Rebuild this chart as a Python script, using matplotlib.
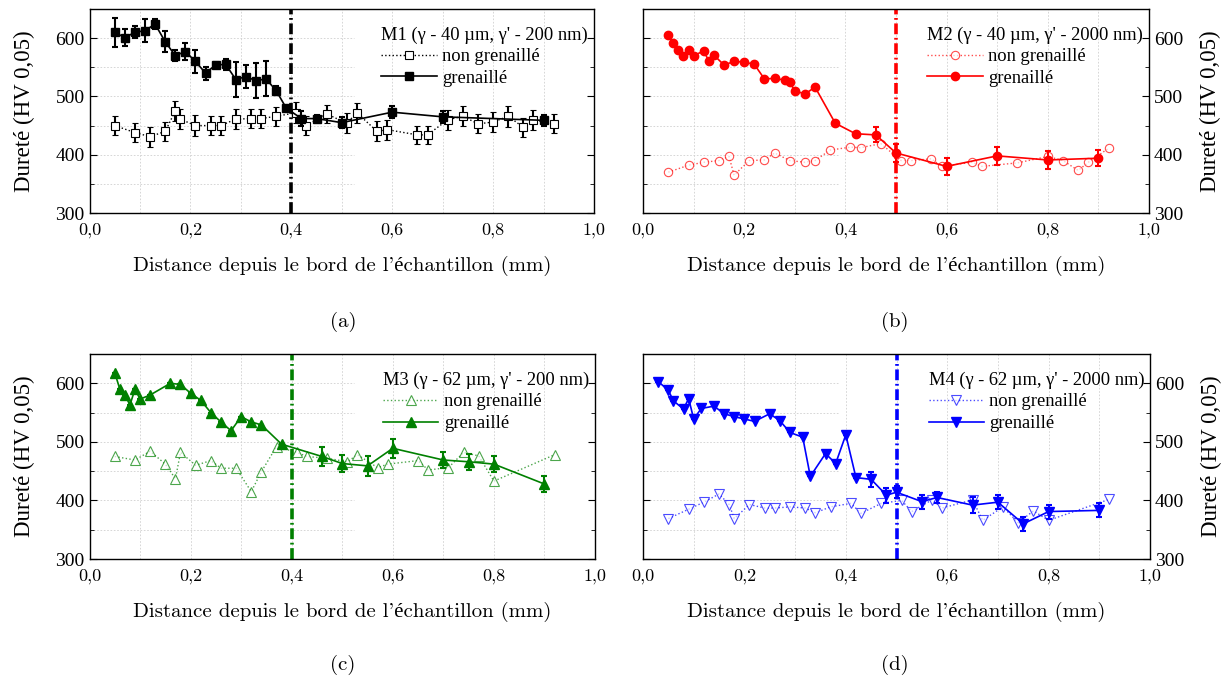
import matplotlib
matplotlib.use("Agg")
import matplotlib.pyplot as plt
from matplotlib.ticker import MultipleLocator, FixedLocator

# ---- data ----
x_ticks = [0.0, 0.2, 0.4, 0.6, 0.8, 1.0]
x_ticklabels = ["0,0", "0,2", "0,4", "0,6", "0,8", "1,0"]
y_ticks = [300, 400, 500, 600]

# M1
a_x_ng = [0.05, 0.09, 0.12, 0.15, 0.17, 0.18, 0.21, 0.24, 0.26, 0.29, 0.32, 0.34, 0.37, 0.41, 0.43,
          0.47, 0.51, 0.53, 0.57, 0.59, 0.65, 0.67, 0.71, 0.74, 0.77, 0.80, 0.83, 0.86, 0.88, 0.92]
a_y_ng = [450, 438, 431, 440, 475, 461, 450, 450, 450, 461, 462, 462, 466, 472, 450,
          470, 454, 472, 440, 443, 434, 434, 460, 466, 453, 456, 466, 447, 460, 453]
a_e_ng = [17, 17, 17, 16, 18, 17, 18, 17, 17, 17, 17, 17, 16, 18, 17,
          16, 17, 17, 17, 17, 16, 16, 17, 17, 16, 17, 18, 16, 17, 16]
a_x_g = [0.05, 0.07, 0.09, 0.11, 0.13, 0.15, 0.17, 0.19, 0.21, 0.23, 0.25, 0.27, 0.29, 0.31, 0.33,
         0.35, 0.37, 0.39, 0.42, 0.45, 0.50, 0.60, 0.70, 0.90]
a_y_g = [610, 601, 610, 613, 624, 594, 570, 577, 560, 540, 554, 555, 529, 534, 527,
         530, 510, 480, 462, 462, 455, 473, 465, 459]
a_e_g = [25, 14, 10, 20, 8, 18, 9, 15, 20, 11, 5, 9, 30, 20, 30,
         30, 8, 3, 13, 6, 10, 10, 10, 9]

# M2
b_x_ng = [0.05, 0.09, 0.12, 0.15, 0.17, 0.18, 0.21, 0.24, 0.26, 0.29, 0.32, 0.34, 0.37, 0.41,
          0.43, 0.47, 0.51, 0.53, 0.57, 0.59, 0.65, 0.67, 0.74, 0.80, 0.83, 0.86, 0.88, 0.92]
b_y_ng = [370, 382, 387, 390, 397, 365, 390, 391, 403, 390, 387, 390, 408, 413,
          412, 419, 390, 390, 393, 380, 387, 380, 386, 397, 390, 373, 387, 411]
b_x_g = [0.05, 0.06, 0.07, 0.08, 0.09, 0.10, 0.12, 0.13, 0.14, 0.16, 0.18, 0.20, 0.22, 0.24,
         0.26, 0.28, 0.29, 0.30, 0.32, 0.34, 0.38, 0.42, 0.46, 0.50, 0.60, 0.70, 0.80, 0.90]
b_y_g = [605, 591, 579, 570, 579, 570, 578, 561, 571, 554, 560, 559, 555, 530,
         531, 528, 524, 510, 504, 516, 454, 436, 434, 403, 380, 398, 391, 394]
b_e_g = [0, 0, 0, 0, 0, 0, 0, 0, 0, 0, 0, 0, 0, 0,
         0, 0, 0, 0, 0, 0, 0, 0, 13, 15, 14, 15, 16, 14]

# M3
c_x_ng = [0.05, 0.09, 0.12, 0.15, 0.17, 0.18, 0.21, 0.24, 0.26, 0.29, 0.32, 0.34, 0.37, 0.41,
          0.43, 0.47, 0.51, 0.53, 0.57, 0.59, 0.65, 0.67, 0.71, 0.74, 0.77, 0.80, 0.92]
c_y_ng = [475, 469, 484, 462, 437, 482, 460, 468, 455, 455, 415, 449, 492, 482,
          475, 472, 466, 478, 456, 462, 468, 452, 456, 482, 476, 433, 478]
c_x_g = [0.05, 0.06, 0.07, 0.08, 0.09, 0.10, 0.12, 0.16, 0.18, 0.20, 0.22, 0.24, 0.26,
         0.28, 0.30, 0.32, 0.34, 0.38, 0.46, 0.50, 0.55, 0.60, 0.70, 0.75, 0.80, 0.90]
c_y_g = [618, 590, 580, 563, 590, 573, 580, 600, 598, 583, 571, 550, 534,
         519, 543, 534, 529, 496, 475, 463, 459, 489, 469, 466, 462, 428]
c_e_g = [0, 0, 0, 0, 0, 0, 0, 0, 0, 0, 0, 0, 0,
         0, 0, 0, 0, 0, 16, 15, 17, 16, 14, 14, 14, 14]

# M4
d_x_ng = [0.05, 0.09, 0.12, 0.15, 0.17, 0.18, 0.21, 0.24, 0.26, 0.29, 0.32, 0.34, 0.37, 0.41,
          0.43, 0.47, 0.51, 0.53, 0.57, 0.59, 0.65, 0.67, 0.71, 0.74, 0.77, 0.80, 0.92]
d_y_ng = [369, 385, 397, 411, 393, 369, 393, 387, 387, 389, 387, 379, 389, 395,
          378, 395, 400, 381, 401, 387, 401, 366, 389, 362, 382, 366, 402]
d_x_g = [0.03, 0.05, 0.06, 0.08, 0.09, 0.10, 0.115, 0.14, 0.16, 0.18, 0.20, 0.22, 0.25, 0.27,
         0.29, 0.315, 0.33, 0.36, 0.38, 0.40, 0.42, 0.45, 0.48, 0.50, 0.55, 0.58, 0.65, 0.70,
         0.75, 0.80, 0.90]
d_y_g = [603, 588, 570, 556, 574, 539, 557, 561, 548, 543, 539, 535, 548, 536,
         516, 508, 441, 480, 463, 512, 439, 436, 409, 414, 398, 405, 392, 397,
         360, 381, 383]
d_e_g = [0, 0, 0, 0, 0, 0, 0, 0, 0, 0, 0, 0, 0, 0,
         0, 0, 0, 0, 0, 0, 0, 13, 13, 10, 12, 10, 14, 12,
         12, 12, 12]

titles = ["M1 (\u03b3 - 40 \u00b5m, \u03b3' - 200 nm)", "M2 (\u03b3 - 40 \u00b5m, \u03b3' - 2000 nm)",
          "M3 (\u03b3 - 62 \u00b5m, \u03b3' - 200 nm)", "M4 (\u03b3 - 62 \u00b5m, \u03b3' - 2000 nm)"]
colors = ["black", "#ff0000", "#008000", "#0000ff"]
markers = ["s", "o", "^", "v"]
limits = [0.4, 0.5, 0.4, 0.5]
panel_names = ["(a)", "(b)", "(c)", "(d)"]

serif = ["Liberation Serif", "DejaVu Serif"]
cm = ["cmr10", "Liberation Serif"]

W, H = 1224, 684
fig = plt.figure(figsize=(W / 100, H / 100), dpi=100)

# axes boxes in pixels: left, top, right, bottom
boxes = [(89.5, 9, 594, 213), (643, 9, 1149, 213), (89.5, 354, 595, 559), (643, 354, 1150, 559)]
grid_stop = [0.524, 0.385, 0.524, 0.385]
label_pos = [(343, 322), (895, 322), (343, 665), (895, 665)]

data = [
    (a_x_ng, a_y_ng, a_e_ng, a_x_g, a_y_g, a_e_g),
    (b_x_ng, b_y_ng, None, b_x_g, b_y_g, b_e_g),
    (c_x_ng, c_y_ng, None, c_x_g, c_y_g, c_e_g),
    (d_x_ng, d_y_ng, None, d_x_g, d_y_g, d_e_g),
]
msizes = [6, 6, 7, 7]

for i in range(4):
    l, t, r, b = boxes[i]
    ax = fig.add_axes([l / W, 1 - b / H, (r - l) / W, (b - t) / H])
    c = colors[i]
    x_ng, y_ng, e_ng, x_g, y_g, e_g = data[i]

    # grid
    for gx in [0.1, 0.2, 0.3, 0.4, 0.5, 0.6, 0.7, 0.8, 0.9]:
        ax.axvline(gx, color="#d0d0d0", lw=0.6, ls=(0, (2, 2)), zorder=0)
    for gy in [350, 400, 450, 500, 550, 600]:
        ax.axhline(gy, xmax=grid_stop[i], color="#d0d0d0", lw=0.6, ls=(0, (2, 2)), zorder=0)

    ax.axvline(limits[i], color=c, lw=2.6, dashes=(3.0, 1.0, 0.5, 1.0), zorder=1)

    eb1 = ax.errorbar(x_ng, y_ng, yerr=e_ng, color=c, ls=":", lw=1.0, marker=markers[i],
                      ms=msizes[i], mfc="white", mec=c, mew=0.8, elinewidth=1.5, capsize=2.5,
                      capthick=1.5, ecolor=c, alpha=0.7 if i > 0 else 1.0, zorder=2)
    eb2 = ax.errorbar(x_g, y_g, yerr=e_g, color=c, ls="-", lw=1.2, marker=markers[i],
                      ms=msizes[i], mfc=c, mec=c, elinewidth=1.5, capsize=2.5, capthick=1.5,
                      ecolor=c, zorder=3)

    ax.set_xlim(0, 1.0)
    ax.set_ylim(300, 650)
    ax.xaxis.set_major_locator(FixedLocator(x_ticks))
    ax.set_xticklabels(x_ticklabels, family=cm, fontsize=13)
    ax.xaxis.set_minor_locator(MultipleLocator(0.1))
    ax.set_yticks(y_ticks)
    ax.set_yticklabels([str(v) for v in y_ticks], family=serif, fontsize=14)
    ax.yaxis.set_minor_locator(MultipleLocator(50))
    ax.tick_params(axis="both", which="both", direction="in", top=True, right=True)
    ax.tick_params(axis="y", which="major", length=5)
    ax.tick_params(axis="y", which="minor", length=3)
    ax.tick_params(axis="x", which="both", length=0, pad=7)
    for s in ax.spines.values():
        s.set_linewidth(1.0)

    ax.set_xlabel("Distance depuis le bord de l'\u00e9chantillon (mm)", family=cm,
                  fontsize=15, labelpad=13)
    if i in (1, 3):
        ax.yaxis.set_label_position("right")
        ax.yaxis.tick_right()
        ax.tick_params(axis="y", which="both", direction="in", left=True, right=True,
                       labelleft=False, labelright=True)
        ax.set_ylabel("Duret\u00e9 (HV 0,05)", family=serif, fontsize=16.5, labelpad=12)
    else:
        ax.set_ylabel("Duret\u00e9 (HV 0,05)", family=serif, fontsize=16.5, labelpad=15)

    leg = ax.legend([eb1[0], eb2[0]], ["non grenaill\u00e9", "grenaill\u00e9"],
                    loc="upper right", bbox_to_anchor=(1.003, 0.951), frameon=False,
                    title=titles[i], alignment="left",
                    prop={"family": serif, "size": 13.3}, handlelength=3.0,
                    borderaxespad=0.0, labelspacing=0.25, handletextpad=0.3)
    leg.get_title().set_family(serif)
    leg.get_title().set_fontsize(13.3)

    fig.text(label_pos[i][0] / W, 1 - label_pos[i][1] / H, panel_names[i], family=cm,
             fontsize=15, ha="center", va="center")

fig.savefig("out.png", dpi=100)
